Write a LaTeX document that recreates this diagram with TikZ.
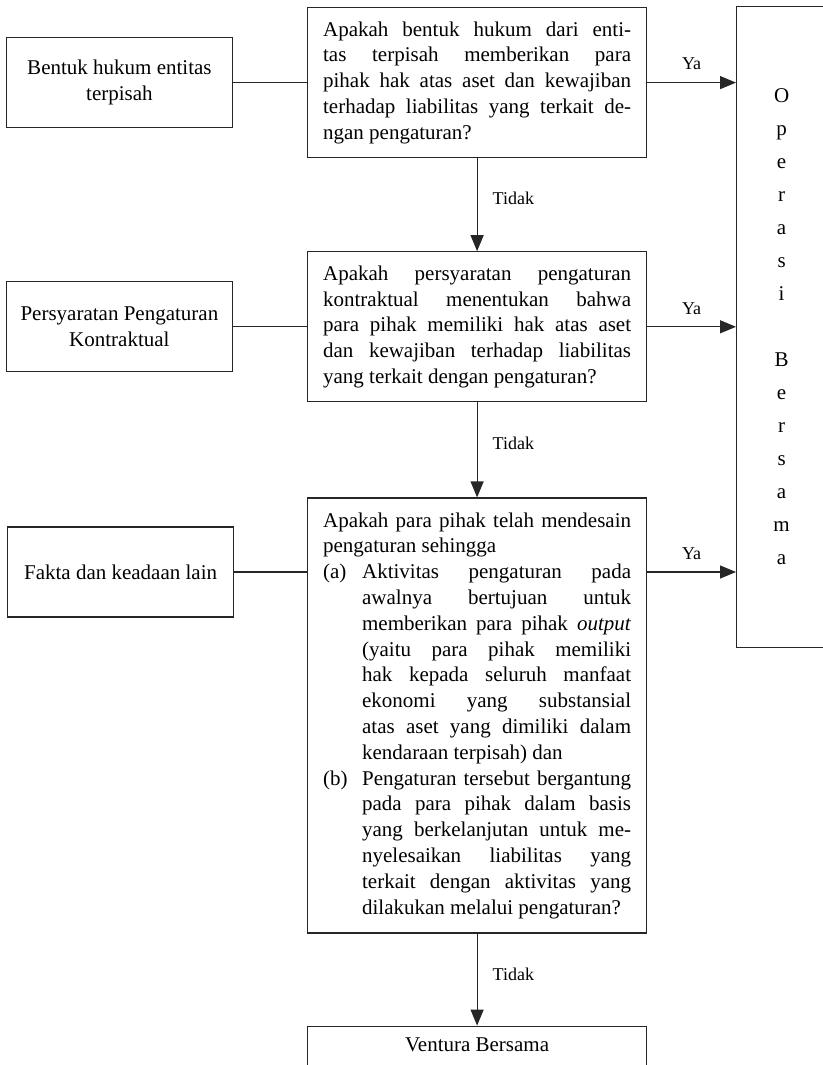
\documentclass[tikz,border=0pt]{standalone}
\usepackage{fontspec}
\setmainfont{Liberation Serif}
\usetikzlibrary{positioning,arrows.meta}

\tikzset{
  srcbox/.style={draw=black!85, line width=0.6pt, minimum width=113pt, minimum height=45pt,
    align=center, inner sep=2pt, font=\fontsize{10.5}{12.9}\selectfont},
  askbox/.style={draw=black!85, line width=0.6pt, text width=154pt, inner xsep=7.75pt,
    align=justify, font=\fontsize{10.5}{12.9}\selectfont},
  flow/.style={draw=black!85, line width=0.6pt, -{Triangle[length=8pt,width=6.5pt]}},
  tie/.style={draw=black!85, line width=0.6pt},
  lbl/.style={font=\fontsize{9}{10}\selectfont, inner sep=0pt}
}
\newcommand{\itemlbl}[1]{\par\noindent\hangindent=19.5pt\hangafter=1\makebox[19.5pt][l]{#1}}

\begin{document}
\begin{tikzpicture}[x=0.5pt, y=-0.5pt]
  \useasboundingbox (0,0) rectangle (823,1065);
  % questions down the middle
  \node[askbox, minimum height=75pt, anchor=north west] (q1) at (307,7)
    {\noindent Apakah bentuk hukum dari enti-\linebreak tas terpisah memberikan para\linebreak
     pihak hak atas aset dan kewajiban\linebreak terhadap liabilitas yang terkait de-\linebreak
     ngan pengaturan?};
  \node[askbox, minimum height=75pt, below=46.5pt of q1] (q2)
    {\noindent Apakah persyaratan pengaturan\linebreak kontraktual menentukan bahwa\linebreak
     para pihak memiliki hak atas aset\linebreak dan kewajiban terhadap liabilitas\linebreak
     yang terkait dengan pengaturan?};
  \node[askbox, minimum height=217.5pt, below=47.5pt of q2] (q3)
    {\noindent Apakah para pihak telah mendesain\linebreak pengaturan sehingga
     \itemlbl{(a)}Aktivitas pengaturan pada\linebreak awalnya bertujuan untuk\linebreak
     memberikan para pihak \emph{output}\linebreak (yaitu para pihak memiliki\linebreak
     hak kepada seluruh manfaat\linebreak ekonomi yang substansial\linebreak
     atas aset yang dimiliki dalam\linebreak kendaraan terpisah) dan
     \itemlbl{(b)}Pengaturan tersebut bergantung\linebreak pada para pihak dalam basis\linebreak
     yang berkelanjutan untuk me-\linebreak nyelesaikan liabilitas yang\linebreak
     terkait dengan aktivitas yang\linebreak dilakukan melalui pengaturan?\par};
  \node[draw=black!85, line width=0.6pt, minimum width=169.5pt, below=46pt of q3,
    text height=8pt, text depth=22pt, inner ysep=4.5pt,
    font=\fontsize{10.5}{12.9}\selectfont] (jv) {Ventura Bersama};
  % sources on the left
  \node[srcbox, left=37pt of q1] (s1) {Bentuk hukum entitas\\terpisah};
  \node[srcbox, left=37pt of q2] (s2) {Persyaratan Pengaturan\\Kontraktual};
  \node[srcbox, anchor=west] (s3) at (7,572) {Fakta dan keadaan lain};
  % outcome on the right
  \node[draw=black!85, line width=0.6pt, anchor=north west, minimum width=45pt,
    minimum height=320.5pt, align=center, font=\fontsize{10.5}{16.5}\selectfont] (ob) at (736,6)
    {O\\p\\e\\r\\a\\s\\i\\~\\B\\e\\r\\s\\a\\m\\a};
  % connectors
  \draw[tie] (s1.east) -- (q1.west);
  \draw[tie] (s2.east) -- (q2.west);
  \draw[tie] (s3.east) -- (s3.east -| q3.west);
  \draw[flow] (q1.east) -- (q1.east -| ob.west) node[lbl, midway, above=6pt] {Ya};
  \draw[flow] (q2.east) -- (q2.east -| ob.west) node[lbl, midway, above=6pt] {Ya};
  \draw[flow] (s3.east -| q3.east) -- (s3.east -| ob.west) node[lbl, midway, above=6pt] {Ya};
  \draw[flow] (q1.south) -- (q2.north) node[lbl, pos=0.43, anchor=west, xshift=7.5pt] {Tidak};
  \draw[flow] (q2.south) -- (q3.north) node[lbl, pos=0.43, anchor=west, xshift=7.5pt] {Tidak};
  \draw[flow] (q3.south) -- (jv.north) node[lbl, pos=0.44, anchor=west, xshift=7.5pt] {Tidak};
\end{tikzpicture}
\end{document}
